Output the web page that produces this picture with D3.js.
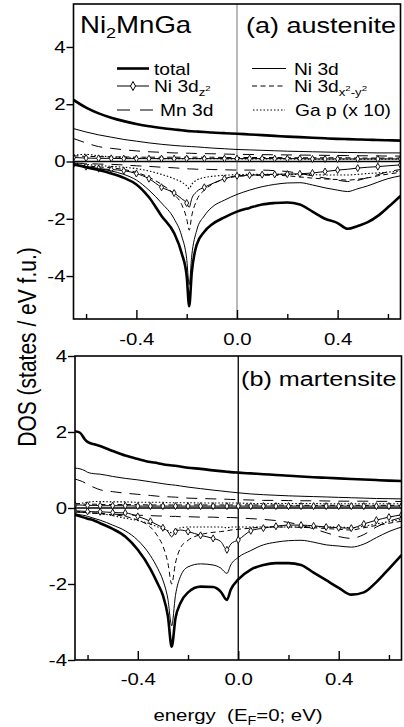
<!DOCTYPE html>
<html><head><meta charset="utf-8">
<script src="https://cdn.jsdelivr.net/npm/d3@7"></script>
<style>
body{margin:0;background:#fff}
svg{display:block}
text{font-family:"Liberation Sans",Arial,Helvetica,sans-serif;fill:#000}
</style>
</head><body>
<svg id="c" width="404" height="727"></svg>
<script>
// ---------- DATA ----------
const xMajorTicks = [-0.4, 0.0, 0.4];
const xMajorLabels = ["-0.4", "0.0", "0.4"];
const xMinorTicks = [-0.6, -0.2, 0.2, 0.6];
const yTicksA = [-4, -2, 0, 2, 4];
const yTicksB = [-4, -2, 0, 2, 4];

// (a) austenite
const energyA = [-0.65,-0.6,-0.55,-0.5,-0.45,-0.4,-0.35,-0.3,-0.25,-0.22,-0.2,-0.19,-0.18,-0.16,-0.13,-0.1,-0.05,0,0.05,0.1,0.15,0.2,0.25,0.3,0.35,0.4,0.44,0.48,0.52,0.56,0.6,0.65];
const totalUpA = [2.15,1.88,1.68,1.53,1.41,1.31,1.23,1.17,1.12,1.09,1.07,1.06,1.055,1.045,1.03,1.01,0.99,0.97,0.945,0.92,0.895,0.87,0.85,0.83,0.81,0.79,0.78,0.77,0.76,0.75,0.74,0.73];
const totalDnA = [-0.1,-0.2,-0.3,-0.42,-0.57,-0.8,-1.25,-1.9,-2.5,-3.2,-4.0,-5.05,-3.9,-2.9,-2.45,-2.2,-1.95,-1.75,-1.62,-1.5,-1.45,-1.43,-1.5,-1.75,-2.0,-2.15,-2.35,-2.25,-2.12,-1.9,-1.6,-1.2];
const ni3dUpA = [1.15,1.03,0.93,0.85,0.77,0.71,0.65,0.6,0.56,0.54,0.53,0.525,0.52,0.51,0.49,0.47,0.445,0.42,0.405,0.39,0.375,0.36,0.35,0.34,0.33,0.32,0.315,0.31,0.305,0.3,0.3,0.3];
const ni3dDnA = [-0.1,-0.18,-0.25,-0.33,-0.45,-0.65,-1.0,-1.45,-2.0,-2.6,-3.4,-4.3,-3.3,-2.4,-1.9,-1.6,-1.35,-1.15,-1.0,-0.88,-0.8,-0.75,-0.74,-0.82,-0.92,-1.0,-1.05,-0.95,-0.85,-0.72,-0.6,-0.5];
const dz2UpA = [0.14,0.12,0.11,0.11,0.1,0.1,0.1,0.1,0.1,0.1,0.1,0.1,0.1,0.1,0.1,0.1,0.1,0.1,0.1,0.1,0.1,0.1,0.1,0.09,0.09,0.09,0.09,0.09,0.09,0.09,0.09,0.09];
const dz2DnA = [-0.1,-0.18,-0.25,-0.28,-0.32,-0.42,-0.6,-0.9,-1.1,-1.3,-1.45,-1.6,-1.3,-1.05,-0.9,-0.78,-0.6,-0.5,-0.48,-0.46,-0.45,-0.44,-0.43,-0.4,-0.35,-0.3,-0.27,-0.23,-0.2,-0.18,-0.15,-0.12];
const dxUpA = [0.2,0.18,0.17,0.16,0.16,0.15,0.15,0.15,0.15,0.15,0.15,0.15,0.15,0.15,0.15,0.15,0.14,0.14,0.14,0.14,0.14,0.13,0.13,0.13,0.13,0.13,0.13,0.12,0.12,0.12,0.12,0.12];
const dxDnA = [-0.08,-0.15,-0.19,-0.22,-0.28,-0.38,-0.55,-0.8,-1.15,-1.5,-2.0,-2.4,-1.9,-1.35,-1.0,-0.8,-0.62,-0.52,-0.5,-0.48,-0.48,-0.5,-0.54,-0.58,-0.61,-0.63,-0.65,-0.62,-0.57,-0.5,-0.44,-0.38];
const mnUpA = [0.8,0.65,0.52,0.46,0.41,0.37,0.34,0.32,0.3,0.295,0.29,0.29,0.285,0.28,0.275,0.27,0.26,0.25,0.245,0.24,0.235,0.23,0.225,0.22,0.215,0.21,0.205,0.2,0.2,0.195,0.19,0.19];
const mnDnA = [-0.05,-0.07,-0.09,-0.1,-0.12,-0.15,-0.17,-0.2,-0.22,-0.24,-0.25,-0.26,-0.26,-0.27,-0.27,-0.28,-0.29,-0.3,-0.3,-0.3,-0.32,-0.35,-0.42,-0.5,-0.58,-0.65,-0.7,-0.66,-0.56,-0.46,-0.36,-0.28];
const gaUpA = [0.22,0.25,0.2,0.16,0.14,0.12,0.11,0.1,0.1,0.1,0.1,0.1,0.1,0.1,0.1,0.1,0.09,0.09,0.09,0.09,0.09,0.09,0.08,0.08,0.08,0.08,0.08,0.08,0.08,0.08,0.08,0.08];
const gaDnA = [-0.05,-0.1,-0.14,-0.17,-0.2,-0.25,-0.33,-0.45,-0.6,-0.72,-0.85,-0.95,-0.8,-0.65,-0.56,-0.52,-0.48,-0.46,-0.45,-0.45,-0.45,-0.45,-0.45,-0.46,-0.47,-0.47,-0.47,-0.45,-0.42,-0.4,-0.37,-0.34];

// (b) martensite
const energyB = [-0.65,-0.63,-0.61,-0.6,-0.57,-0.55,-0.5,-0.45,-0.4,-0.35,-0.32,-0.3,-0.28,-0.265,-0.25,-0.23,-0.2,-0.15,-0.1,-0.07,-0.045,-0.03,0,0.05,0.1,0.15,0.2,0.25,0.3,0.35,0.4,0.45,0.5,0.55,0.6,0.65];
const totalUpB = [2.02,1.98,1.8,1.74,1.67,1.63,1.5,1.38,1.29,1.21,1.18,1.15,1.13,1.12,1.11,1.09,1.06,1.03,0.99,0.97,0.955,0.945,0.93,0.91,0.89,0.87,0.85,0.83,0.81,0.795,0.78,0.765,0.75,0.735,0.72,0.71];
const totalDnB = [-0.18,-0.22,-0.26,-0.28,-0.34,-0.4,-0.55,-0.75,-1.1,-1.6,-2.0,-2.3,-2.85,-3.65,-2.9,-2.5,-2.22,-2.07,-2.08,-2.2,-2.42,-2.15,-1.88,-1.62,-1.5,-1.45,-1.45,-1.5,-1.7,-1.9,-2.1,-2.28,-2.22,-1.95,-1.6,-1.24];
const ni3dUpB = [1.05,1.03,0.98,0.94,0.9,0.89,0.83,0.78,0.74,0.69,0.66,0.64,0.62,0.61,0.6,0.58,0.55,0.51,0.47,0.45,0.43,0.42,0.4,0.37,0.35,0.335,0.32,0.31,0.3,0.29,0.28,0.27,0.26,0.25,0.245,0.24];
const ni3dDnB = [-0.15,-0.18,-0.2,-0.22,-0.28,-0.32,-0.45,-0.6,-0.85,-1.25,-1.6,-1.9,-2.4,-3.1,-2.3,-1.8,-1.55,-1.47,-1.5,-1.58,-1.72,-1.5,-1.3,-1.12,-0.97,-0.9,-0.86,-0.85,-0.9,-0.97,-1.0,-1.03,-0.95,-0.78,-0.62,-0.5];
const dz2UpB = [0.08,0.08,0.07,0.07,0.07,0.06,0.06,0.06,0.05,0.05,0.05,0.05,0.05,0.05,0.05,0.05,0.05,0.05,0.05,0.05,0.05,0.05,0.05,0.05,0.05,0.05,0.05,0.05,0.05,0.05,0.05,0.05,0.05,0.05,0.05,0.05];
const dz2DnB = [-0.08,-0.08,-0.09,-0.09,-0.1,-0.1,-0.12,-0.13,-0.22,-0.35,-0.45,-0.52,-0.62,-0.76,-0.62,-0.58,-0.62,-0.72,-0.8,-0.88,-1.1,-0.95,-0.84,-0.6,-0.53,-0.48,-0.45,-0.45,-0.47,-0.5,-0.52,-0.53,-0.42,-0.32,-0.24,-0.18];
const dxUpB = [0.12,0.11,0.1,0.1,0.1,0.09,0.09,0.09,0.09,0.08,0.08,0.08,0.08,0.08,0.08,0.08,0.08,0.08,0.08,0.08,0.08,0.08,0.08,0.08,0.08,0.08,0.07,0.07,0.07,0.07,0.07,0.07,0.07,0.07,0.07,0.07];
const dxDnB = [-0.1,-0.11,-0.12,-0.12,-0.14,-0.15,-0.18,-0.22,-0.32,-0.5,-0.75,-1.0,-1.45,-2.0,-1.45,-1.05,-0.85,-0.7,-0.64,-0.62,-0.6,-0.58,-0.56,-0.53,-0.5,-0.5,-0.5,-0.51,-0.52,-0.54,-0.56,-0.58,-0.52,-0.46,-0.4,-0.35];
const mnUpB = [0.76,0.72,0.66,0.62,0.53,0.48,0.43,0.39,0.36,0.33,0.31,0.3,0.295,0.29,0.285,0.275,0.26,0.25,0.24,0.235,0.23,0.225,0.22,0.21,0.2,0.2,0.195,0.19,0.19,0.185,0.18,0.18,0.18,0.175,0.175,0.17];
const mnDnB = [-0.1,-0.11,-0.12,-0.12,-0.13,-0.14,-0.16,-0.18,-0.19,-0.2,-0.21,-0.21,-0.22,-0.22,-0.22,-0.23,-0.23,-0.24,-0.24,-0.25,-0.25,-0.25,-0.26,-0.28,-0.3,-0.33,-0.38,-0.45,-0.55,-0.65,-0.75,-0.8,-0.7,-0.5,-0.35,-0.25];
const gaUpB = [0.1,0.12,0.14,0.15,0.17,0.17,0.16,0.16,0.15,0.15,0.15,0.15,0.14,0.14,0.14,0.14,0.14,0.13,0.13,0.13,0.13,0.13,0.13,0.12,0.12,0.12,0.12,0.12,0.12,0.11,0.11,0.11,0.11,0.11,0.11,0.11];
const gaDnB = [-0.08,-0.1,-0.11,-0.12,-0.14,-0.15,-0.2,-0.27,-0.33,-0.42,-0.5,-0.55,-0.6,-0.65,-0.58,-0.52,-0.5,-0.5,-0.5,-0.5,-0.52,-0.5,-0.5,-0.5,-0.5,-0.5,-0.5,-0.5,-0.5,-0.5,-0.5,-0.52,-0.48,-0.42,-0.36,-0.3];

// ---------- STYLES ----------
const SX = 1.2; // horizontal stretch of glyphs in the reference
const styles = {
  ga:    {w: 1.1, dash: "1.5,2"},
  mn:    {w: 1.0, dash: "11,8"},
  dx:    {w: 1.0, dash: "5,3.5"},
  dz2:   {w: 1.0, dash: null, marker: true},
  ni3d:  {w: 1.0, dash: null},
  total: {w: 2.6, dash: null}
};

const svg = d3.select("#c");

function drawPanel(o) {
  const x = d3.scaleLinear().domain([-0.65, 0.65]).range(o.xr);
  const y = d3.scaleLinear().domain(o.yd).range(o.yr);
  const g = svg.append("g");
  const clipId = "clip" + o.id;
  svg.append("clipPath").attr("id", clipId).append("rect")
    .attr("x", o.xr[0]).attr("y", o.yr[1]).attr("width", o.xr[1]-o.xr[0]).attr("height", o.yr[0]-o.yr[1]);
  const plot = g.append("g").attr("clip-path", `url(#${clipId})`);

  plot.append("line").attr("x1", o.xr[0]).attr("x2", o.xr[1]).attr("y1", y(0)).attr("y2", y(0))
    .attr("stroke", "#000").attr("stroke-width", 1.6);
  plot.append("line").attr("x1", x(0)).attr("x2", x(0)).attr("y1", o.yr[0]).attr("y2", o.yr[1])
    .attr("stroke", o.efColor).attr("stroke-width", o.efWidth);

  const line = d3.line().x(d => x(d[0])).y(d => y(d[1])).curve(d3.curveMonotoneX);
  const order = ["ga", "mn", "dx", "dz2", "ni3d", "total"];
  order.forEach(k => {
    const st = styles[k];
    [o.series[k].up, o.series[k].dn].forEach(vals => {
      const pts = o.energy.map((e, i) => [e, vals[i]]);
      plot.append("path").attr("d", line(pts)).attr("fill", "none")
        .attr("stroke", "#000").attr("stroke-width", st.w)
        .attr("stroke-dasharray", st.dash).attr("stroke-linejoin", "round");
      if (st.marker) {
        let last = -1e9;
        pts.forEach(p => {
          const px = x(p[0]);
          if (px - last < 11) return;
          last = px;
          plot.append("path")
            .attr("d", `M${px},${y(p[1])-3.5}L${px+2},${y(p[1])}L${px},${y(p[1])+3.5}L${px-2},${y(p[1])}Z`)
            .attr("fill", "#fff").attr("stroke", "#000").attr("stroke-width", 0.9);
        });
      }
    });
  });

  g.append("rect").attr("x", o.xr[0]).attr("y", o.yr[1]).attr("width", o.xr[1]-o.xr[0]).attr("height", o.yr[0]-o.yr[1])
    .attr("fill", "none").attr("stroke", "#000").attr("stroke-width", 1.6);

  const xa = g.append("g").attr("transform", `translate(0,${o.yr[0]})`)
    .call(d3.axisBottom(x).tickValues(xMajorTicks).tickSize(-9).tickPadding(o.xPad)
      .tickFormat((d, i) => xMajorLabels[i]));
  xa.select(".domain").remove();
  xa.selectAll("line").attr("stroke-width", 1.4);
  xa.selectAll("text").attr("font-size", 17).attr("font-family", null).attr("transform", `scale(${SX},1)`);
  const xm = g.append("g").attr("transform", `translate(0,${o.yr[0]})`)
    .call(d3.axisBottom(x).tickValues(xMinorTicks).tickSize(-5).tickFormat(""));
  xm.select(".domain").remove();
  xm.selectAll("line").attr("stroke-width", 1.4);

  const ya = g.append("g").attr("transform", `translate(${o.xr[0]},0)`)
    .call(d3.axisLeft(y).tickValues(o.yTicks).tickSize(7).tickFormat(d => String(d)));
  ya.select(".domain").remove();
  ya.selectAll("line").attr("stroke-width", 1.4);
  ya.selectAll("text").attr("font-size", 17).attr("font-family", null)
    .attr("x", -8 / SX).attr("transform", `scale(${SX},1)`);
  return {x, y, g};
}

function stext(parent, tx, ty, size, anchor) {
  return parent.append("text").attr("transform", `translate(${tx},${ty}) scale(${SX},1)`)
    .attr("font-size", size).attr("text-anchor", anchor || "start");
}

drawPanel({
  id: "a", energy: energyA, xr: [73.5, 400.5], yr: [319, 4], yd: [-5.5, 5.5], yTicks: yTicksA,
  efColor: "#777", efWidth: 1, xPad: 14,
  series: {
    total: {up: totalUpA, dn: totalDnA}, ni3d: {up: ni3dUpA, dn: ni3dDnA},
    dz2: {up: dz2UpA, dn: dz2DnA}, dx: {up: dxUpA, dn: dxDnA},
    mn: {up: mnUpA, dn: mnDnA}, ga: {up: gaUpA, dn: gaDnA}
  }
});
drawPanel({
  id: "b", energy: energyB, xr: [75, 401.5], yr: [660, 356], yd: [-4, 4], yTicks: yTicksB,
  efColor: "#000", efWidth: 1.3, xPad: 13,
  series: {
    total: {up: totalUpB, dn: totalDnB}, ni3d: {up: ni3dUpB, dn: ni3dDnB},
    dz2: {up: dz2UpB, dn: dz2DnB}, dx: {up: dxUpB, dn: dxDnB},
    mn: {up: mnUpB, dn: mnDnB}, ga: {up: gaUpB, dn: gaDnB}
  }
});

// titles
const t1 = stext(svg, 80, 33, 23);
t1.append("tspan").text("Ni");
t1.append("tspan").attr("font-size", 15).attr("dy", 5).text("2");
t1.append("tspan").attr("dy", -5).text("MnGa");
stext(svg, 246, 33, 22.5).text("(a) austenite");
stext(svg, 241, 386, 21).text("(b) martensite");

// legend
const legend = svg.append("g");
const legItems = [
  {k: "total", x1: 117, x2: 149, y: 68.5, tx: 154, label: "total"},
  {k: "dz2", x1: 117, x2: 149, y: 86, tx: 154, label: "dz2"},
  {k: "mn", x1: 117, x2: 153, y: 110, tx: 160, label: "Mn 3d"},
  {k: "ni3d", x1: 252, x2: 286, y: 68.5, tx: 294, label: "Ni 3d"},
  {k: "dx", x1: 252, x2: 286, y: 86, tx: 294, label: "dx"},
  {k: "ga", x1: 253, x2: 285, y: 110, tx: 295, label: "Ga p (x 10)"}
];
legItems.forEach(it => {
  const st = styles[it.k];
  legend.append("line").attr("x1", it.x1).attr("x2", it.x2).attr("y1", it.y).attr("y2", it.y)
    .attr("stroke", "#000").attr("stroke-width", st.w).attr("stroke-dasharray", it.k === "mn" ? "13,10" : st.dash);
  if (st.marker) {
    const cx = (it.x1 + it.x2) / 2;
    legend.append("path").attr("d", `M${cx},${it.y-4.5}L${cx+2.5},${it.y}L${cx},${it.y+4.5}L${cx-2.5},${it.y}Z`)
      .attr("fill", "#fff").attr("stroke", "#000").attr("stroke-width", 1);
  }
  const t = stext(legend, it.tx, it.y + 6, 16);
  if (it.label === "dz2") {
    t.append("tspan").text("Ni 3d");
    t.append("tspan").attr("font-size", 11).attr("dy", 4).text("z");
    t.append("tspan").attr("font-size", 8).attr("dy", -5).text("2");
  } else if (it.label === "dx") {
    t.append("tspan").text("Ni 3d");
    t.append("tspan").attr("font-size", 11).attr("dy", 4).text("x");
    t.append("tspan").attr("font-size", 8).attr("dy", -5).text("2");
    t.append("tspan").attr("font-size", 11).attr("dy", 5).text("-y");
    t.append("tspan").attr("font-size", 8).attr("dy", -5).text("2");
  } else {
    t.text(it.label);
  }
});

// axis titles
const xt = stext(svg, 238, 721, 17, "middle");
xt.append("tspan").text("energy\u00a0\u00a0(E");
xt.append("tspan").attr("font-size", 12).attr("dy", 4).text("F");
xt.append("tspan").attr("dy", -4).text("=0; eV)");

svg.append("text").attr("transform", `translate(36,347) scale(${SX},1) rotate(-90)`)
  .attr("font-size", 21).attr("text-anchor", "middle").text("DOS (states / eV f.u.)");
</script>
</body></html>
